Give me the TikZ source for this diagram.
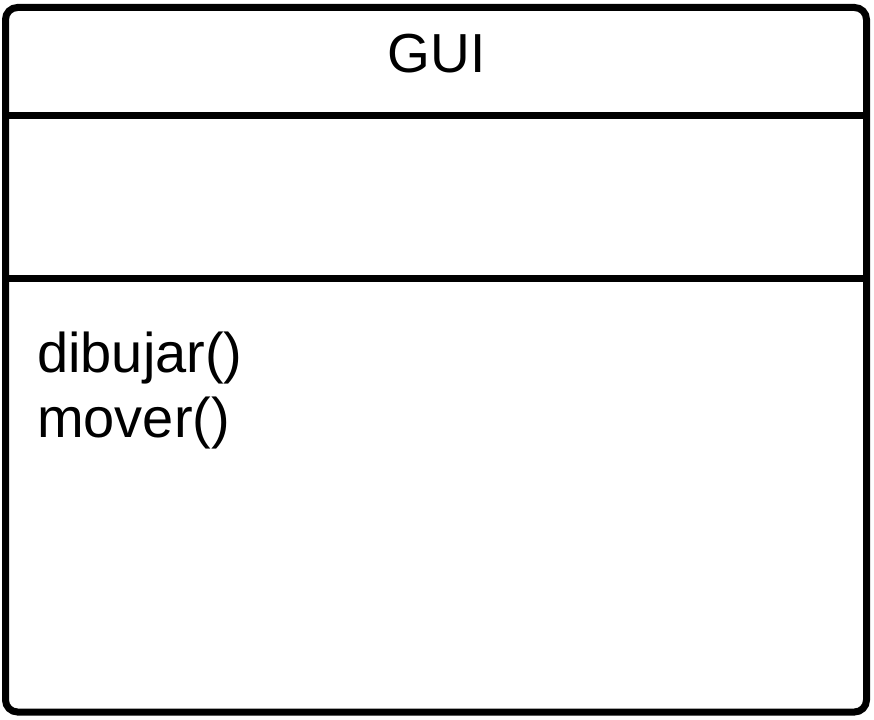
\documentclass[tikz,border=0pt]{standalone}
\usepackage{fontspec}
\setmainfont{Liberation Sans}
\usepackage{tikz}
\usetikzlibrary{positioning}

\begin{document}
\begin{tikzpicture}
    [x=1pt,y=-1pt,
classbox/.style={rectangle,draw,line width=7pt,rounded corners=12pt,inner sep=0pt,
  minimum width=861pt,minimum height=704.5pt},
divider/.style={line width=7pt},
member/.style={anchor=base west,inner sep=0pt,font=\fontsize{56}{65}\selectfont}
]
\useasboundingbox (0,0) rectangle (874,719);
  \node[classbox] (gui) at (436,359.75) {};
  \node[font=\fontsize{55}{65}\selectfont,inner sep=0pt] (name) at (436.5,54) {GUI};
  \coordinate (attrtop) at (5.5,115.5);
  \coordinate (opstop) at (5.5,278);
  \draw[divider] (attrtop) -- (attrtop -| gui.east);
  \draw[divider] (opstop) -- (opstop -| gui.east);
  \node[member] (op1) at (37,372) {dibujar()};
  \node[member] (op2) at (37,437) {mover()};
\end{tikzpicture}
\end{document}
